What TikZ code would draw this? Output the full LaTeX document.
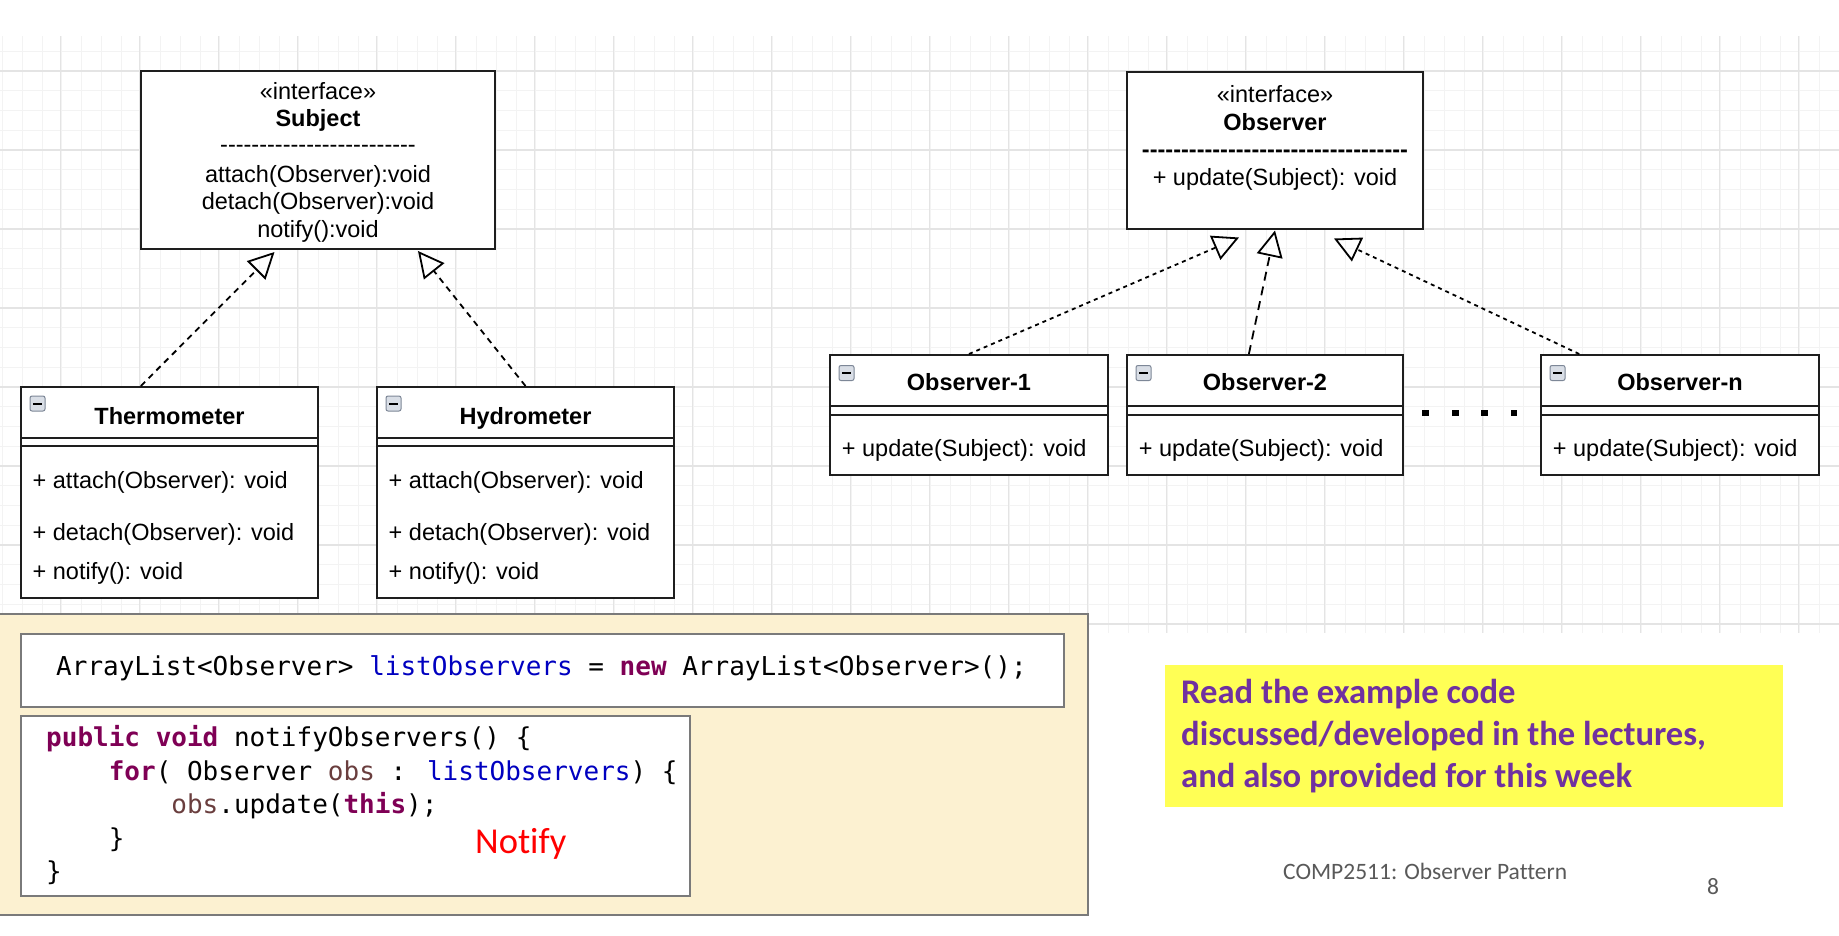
\documentclass[tikz,border=0pt]{standalone}
\usepackage{fontspec}
\setmainfont{Liberation Sans}
\newfontfamily\uml{Liberation Sans}
\newfontfamily\codefont{DejaVu Sans Mono}
\newfontfamily\calib{Carlito}[Ligatures=CommonOff]
\usetikzlibrary{arrows.meta,calc}
\definecolor{kw}{HTML}{7F0055}
\definecolor{fld}{HTML}{0000C0}
\definecolor{loc}{HTML}{6A3E3E}
\definecolor{cream}{HTML}{FCF1D1}
\definecolor{notey}{HTML}{FFFF55}
\definecolor{notep}{HTML}{7030A0}
\definecolor{foot}{HTML}{595959}
\definecolor{gminor}{HTML}{F3F3F3}
\definecolor{gmajor}{HTML}{E4E4E4}
\definecolor{boxline}{HTML}{1E1E1E}
\definecolor{codeline}{HTML}{7A7A7A}
\definecolor{iconfill}{HTML}{D9DEE6}
\definecolor{iconline}{HTML}{7D8797}
\def\hy{-\kern0pt}
\def\hyf{\hy\hy\hy\hy\hy}
\begin{document}
\begin{tikzpicture}[x=1pt,y=-1pt,
  umlbox/.style={draw=boxline, line width=2pt, fill=white, inner sep=0pt},
  umltxt/.style={font=\uml\fontsize{23.5}{28}\selectfont, inner sep=0pt},
  umlbold/.style={font=\uml\bfseries\fontsize{23.5}{28}\selectfont, inner sep=0pt},
  umlicon/.style={draw=iconline, fill=iconfill, line width=1pt, rounded corners=2pt,
    minimum size=15pt, inner sep=0pt,
    path picture={\draw[line width=2pt, black] ($(path picture bounding box.center)+(-4.5,0)$) -- ($(path picture bounding box.center)+(4.5,0)$);}},
  realize/.style={line width=1.8pt, -{Triangle[open, length=26pt, width=26pt]}},
  codebox/.style={draw=codeline, line width=2pt, fill=white, inner sep=0pt},
  codetxt/.style={font=\codefont\fontsize{26}{30}\selectfont, inner sep=0pt, anchor=base west},
  notetxt/.style={font=\calib\bfseries\fontsize{34.6}{42}\selectfont, text=notep, inner sep=0pt, anchor=base west},
  foottxt/.style={font=\calib\fontsize{23.5}{28}\selectfont, text=foot, inner sep=0pt, anchor=base west}
]
\useasboundingbox (0,0) rectangle (1839,935);
\fill[white] (0,0) rectangle (1839,935);
% grid
\begin{scope}
\clip (0,36) rectangle (1839,633);
\foreach \i in {0,...,93} \draw[gminor, line width=1pt] ({2.5+19.75*\i},36) -- ({2.5+19.75*\i},633);
\foreach \j in {0,...,29} \draw[gminor, line width=1pt] (0,{51.25+19.75*\j}) -- (1839,{51.25+19.75*\j});
\foreach \i in {0,...,22} \draw[gmajor, line width=1.4pt] ({60.7+79*\i},36) -- ({60.7+79*\i},633);
\foreach \j in {0,...,7} \draw[gmajor, line width=1.4pt] (0,{71+79*\j}) -- (1839,{71+79*\j});
\end{scope}

% ---------- Subject interface
\node[umlbox, minimum width=354pt, minimum height=178pt] (subj) at (318,160) {};
\node[umltxt, anchor=base] (subjst) at ($(subj.north)+(0,29)$) {«interface»};
\node[umlbold, anchor=base] (subjname) at ($(subj.north)+(0,56.7)$) {Subject};
\node[umltxt, anchor=base] (subjsep) at ($(subj.north)+(0,82)$) {\hyf\hyf\hyf\hyf\hyf};
\node[umltxt, anchor=base] (subjm1) at ($(subj.north)+(0,112.3)$) {attach(Observer):void};
\node[umltxt, anchor=base] (subjm2) at ($(subj.north)+(0,139)$) {detach(Observer):void};
\node[umltxt, anchor=base] (subjm3) at ($(subj.north)+(0,167.3)$) {notify():void};

% ---------- Thermometer / Hydrometer
\foreach \nm/\cx/\title in {therm/169.5/Thermometer, hydro/525.5/Hydrometer}{
  \node[umlbox, minimum width=297pt, minimum height=211pt] (\nm) at (\cx,492.5) {};
  \draw[boxline, line width=2pt] ($(\nm.north west)+(0,52)$) -- ($(\nm.north east)+(0,52)$);
  \draw[boxline, line width=2pt] ($(\nm.north west)+(0,59.5)$) -- ($(\nm.north east)+(0,59.5)$);
  \node[umlicon] (\nm icon) at ($(\nm.north west)+(17.5,17.5)$) {};
  \node[umlbold, anchor=base] (\nm title) at ($(\nm.north)+(0,38)$) {\title};
  \node[umltxt, anchor=base west] (\nm m1) at ($(\nm.north west)+(12.5,102)$) {+ attach(Observer): void};
  \node[umltxt, anchor=base west] (\nm m2) at ($(\nm.north west)+(12.5,154.5)$) {+ detach(Observer): void};
  \node[umltxt, anchor=base west] (\nm m3) at ($(\nm.north west)+(12.5,193.5)$) {+ notify(): void};
}

% ---------- Observer interface
\node[umlbox, minimum width=296pt, minimum height=157pt] (obsi) at (1275,150.5) {};
\node[umltxt, anchor=base] (obsist) at ($(obsi.north)+(0,31.3)$) {«interface»};
\node[umlbold, anchor=base] (obsiname) at ($(obsi.north)+(0,59)$) {Observer};
\node[umlbold, anchor=base] (obsisep) at ($(obsi.north)+(0,86.5)$) {\hyf\hyf\hyf\hyf\hyf\hyf\hy\hy\hy\hy};
\node[umltxt, anchor=base] (obsim) at ($(obsi.north)+(0,114.7)$) {+ update(Subject): void};

% ---------- Observer classes
\foreach \nm/\cx/\bw/\title in {obsa/969/278/Observer-1, obsb/1265/276/Observer-2, obsn/1680/278/Observer-n}{
  \node[umlbox, minimum width=\bw pt, minimum height=120pt] (\nm) at (\cx,415) {};
  \draw[boxline, line width=2pt] ($(\nm.north west)+(0,52.3)$) -- ($(\nm.north east)+(0,52.3)$);
  \draw[boxline, line width=2pt] ($(\nm.north west)+(0,60.7)$) -- ($(\nm.north east)+(0,60.7)$);
  \node[umlicon] (\nm icon) at ($(\nm.north west)+(17.5,19)$) {};
  \node[umlbold, anchor=base] (\nm title) at ($(\nm.north)+(0,36.7)$) {\title};
  \node[umltxt, anchor=base west] (\nm m) at ($(\nm.north west)+(12.7,102)$) {+ update(Subject): void};
}
% dots
\foreach \dx in {1425.6,1455.5,1484.5,1514}
  \fill[black] (\dx-3.3,413-3.3) rectangle (\dx+3.3,413+3.3);

% ---------- realization arrows
\coordinate (tipA) at (274.5,252);
\coordinate (tipB) at (418,251);
\coordinate (tipC) at (1239,237.5);
\coordinate (tipD) at (1275,230.5);
\coordinate (tipE) at (1334,238.5);
\draw[realize, dash pattern=on 6pt off 5pt] ($(therm.north west)!0.404!(therm.north east)$) -- (tipA);
\draw[realize, dash pattern=on 6pt off 5pt] (hydro.north) -- (tipB);
\draw[realize, dash pattern=on 4pt off 4pt] (obsa.north) -- (tipC);
\draw[realize, dash pattern=on 9pt off 6pt] ($(obsb.north west)!0.442!(obsb.north east)$) -- (tipD);
\draw[realize, dash pattern=on 4pt off 4pt] ($(obsn.north west)!0.14!(obsn.north east)$) -- (tipE);

% ---------- code panel
\node[draw=codeline, fill=cream, line width=2pt, minimum width=1089pt, minimum height=301pt, inner sep=0pt] (panel) at (543,764.5) {};
\node[codebox, minimum width=1043pt, minimum height=73pt] (code1) at (542.5,670.5) {};
\node[codebox, minimum width=669pt, minimum height=180pt] (code2) at (355.5,806) {};
\node[codetxt] (c1) at (56,675) {ArrayList<Observer> {\color{fld}listObservers} = {\color{kw}\bfseries new} ArrayList<Observer>();};
\node[codetxt] (c2) at (46,746.5) {{\color{kw}\bfseries public} {\color{kw}\bfseries void} notifyObservers() \{};
\node[codetxt] (c3) at (108.6,780) {{\color{kw}\bfseries for}( Observer {\color{loc}obs} : {\color{fld}listObservers}) \{};
\node[codetxt] (c4) at (171.2,813.5) {{\color{loc}obs}.update({\color{kw}\bfseries this});};
\node[codetxt] (c5) at (108.6,847) {\}};
\node[codetxt] (c6) at (46,880.5) {\}};
\node[font=\calib\fontsize{36.5}{42}\selectfont, text=red, inner sep=0pt, anchor=base west] (notify) at (475,853) {Notify};

% ---------- note
\node[fill=notey, minimum width=618pt, minimum height=142pt, inner sep=0pt] (note) at (1474,736) {};
\node[notetxt] (n1) at (1181,703) {Read the example code};
\node[notetxt] (n2) at (1181,745) {discussed/developed in the lectures,};
\node[notetxt] (n3) at (1181,787.5) {and also provided for this week};

% ---------- footer
\node[foottxt] (foot) at (1283,879) {COMP2511: Observer Pattern};
\node[foottxt] (page) at (1707,894) {8};
\end{tikzpicture}
\end{document}
